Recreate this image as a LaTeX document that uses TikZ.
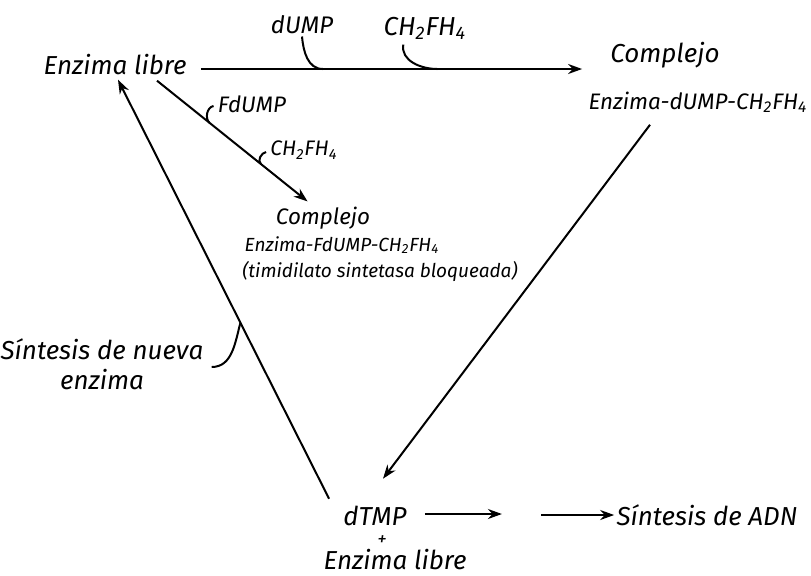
\documentclass[tikz,border=0pt]{standalone}
\usepackage{fontspec}
\setmainfont{Fira Sans}
\usetikzlibrary{arrows.meta,calc}

\tikzset{
  hand/.style={font=\itshape\fontsize{13}{15}\selectfont, inner sep=1pt},
  mid/.style={font=\itshape\fontsize{11.2}{13}\selectfont, inner sep=1pt},
  small/.style={font=\itshape\fontsize{9.5}{11}\selectfont, inner sep=1pt},
  flow/.style={line width=1pt, -{Stealth[length=7pt,width=5pt]}},
  hook/.style={line width=1pt},
}

\begin{document}
\begin{tikzpicture}[x=0.5pt, y=0.5pt]
\useasboundingbox (0,0) rectangle (811,-575);

\node[hand] (libre) at (115,-65) {Enzima libre};
\node[hand, font=\itshape\fontsize{12}{14}\selectfont] (dump) at (302,-25) {dUMP};
\node[hand] (ch2a) at (425,-28) {CH\textsubscript{2}FH\textsubscript{4}};
\node[hand] (cplxA) at (665,-55) {Complejo};
\node[mid] (edump) at (698,-102) {Enzima-dUMP-CH\textsubscript{2}FH\textsubscript{4}};
\node[mid] (fdump) at (252,-104) {FdUMP};
\node[small, font=\itshape\fontsize{10.5}{12}\selectfont] (ch2b) at (304,-150) {CH\textsubscript{2}FH\textsubscript{4}};
\node[mid] (cplxB) at (323,-218) {Complejo};
\node[small] (efd) at (342,-245) {Enzima-FdUMP-CH\textsubscript{2}FH\textsubscript{4}};
\node[small] (bloq) at (380,-271) {(timidilato sintetasa bloqueada)};
\node[hand, align=center] (nueva) at (102,-364) {Síntesis de nueva\\enzima};
\node[hand] (dtmp) at (375,-516) {dTMP};
\node[small, inner sep=0pt] (plus) at (382,-541) {+};
\node[hand] (libre2) at (395,-560) {Enzima libre};
\node[hand] (adn) at (707,-515) {Síntesis de ADN};

\draw[flow] ($(libre.east)+(12,-4)$) -- ($(edump.west |- libre.east)+(-4,-4)$)
  coordinate[pos=0.32] (j1) coordinate[pos=0.62] (j2);
\draw[hook] (dump.south) to[out=-85,in=180] (j1);
\draw[hook] ($(ch2a.south west)+(22,-3)$) to[out=-100,in=180] (j2);

\draw[flow] ($(libre.south)+(42,-3)$) -- ($(cplxB.north west)+(34,3)$)
  coordinate[pos=0.35] (j3) coordinate[pos=0.69] (j4);
\draw[hook] ($(fdump.west)+(-2,-2)$) to[out=190,in=140] (j3);
\draw[hook] ($(ch2b.west)+(-2,-2)$) to[out=190,in=140] (j4);

\draw[flow] ($(edump.south)+(-48,-10)$) -- ($(dtmp.north)+(8,25)$);

\draw[flow] ($(dtmp.north west)+(-12,5)$) -- ($(libre.south)+(3,-2)$)
  coordinate[pos=0.42] (j5);
\draw[hook] ($(nueva.east)+(6,-3)$) to[out=0,in=-105] (j5);

\draw[flow] ($(dtmp.east)+(16,2)$) -- ($(dtmp.east)+(93,2)$);
\draw[flow] ($(adn.west)+(-73,0)$) -- (adn.west);
\end{tikzpicture}
\end{document}
